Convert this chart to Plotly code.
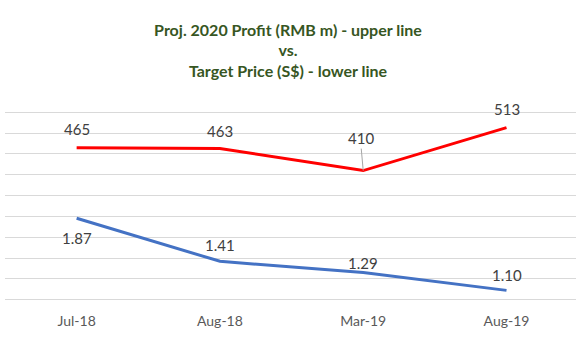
import plotly.graph_objects as go

categories = ["Jul-18", "Aug-18", "Mar-19", "Aug-19"]
profit = [465, 463, 410, 513]
target_price = [1.87, 1.41, 1.29, 1.10]
profit_labels = ["465", "463", "410", "513"]
price_labels = ["1.87", "1.41", "1.29", "1.10"]

x_idx = list(range(len(categories)))

fig = go.Figure()
fig.add_trace(go.Scatter(x=x_idx, y=profit, mode="lines",
                         line=dict(color="#FF0000", width=3), yaxis="y"))
fig.add_trace(go.Scatter(x=x_idx, y=target_price, mode="lines",
                         line=dict(color="#4472C4", width=3), yaxis="y2"))

lab_font = dict(family="Lato, Carlito, Calibri, sans-serif", size=15, color="#404040")
profit_shift = [19, 18, None, 19]
for i, (v, t) in enumerate(zip(profit, profit_labels)):
    if profit_shift[i] is None:
        fig.add_annotation(x=i, y=v, xref="x", yref="y", text=t, showarrow=True,
                           ax=-2, ay=-22, arrowhead=0, arrowwidth=1,
                           arrowcolor="#A6A6A6", standoff=0, startstandoff=0,
                           yanchor="bottom", font=lab_font)
    else:
        fig.add_annotation(x=i, y=v, xref="x", yref="y", text=t, showarrow=False,
                           yshift=profit_shift[i], font=lab_font)

price_shift = [-20, 16, 10, 15]
for i, (v, t) in enumerate(zip(target_price, price_labels)):
    fig.add_annotation(x=i, y=v, xref="x", yref="y2", text=t, showarrow=False,
                       yshift=price_shift[i], font=lab_font)

fig.update_layout(
    width=576, height=349,
    margin=dict(l=5, r=0, t=111, b=48),
    paper_bgcolor="white", plot_bgcolor="white",
    showlegend=False,
    title=dict(
        text="Proj. 2020 Profit (RMB m) - upper line<br>vs.<br>Target Price (S$) - lower line",
        font=dict(family="Lato, Carlito, Calibri, sans-serif", size=16, color="#375623", weight="bold"),
        x=0.5, xanchor="center", y=0.898, yanchor="top",
    ),
    xaxis=dict(
        tickmode="array", tickvals=x_idx, ticktext=categories,
        range=[-0.5, 3.485], showgrid=False, zeroline=False, showline=False,
        ticks="", tickfont=dict(family="Lato, Carlito, Calibri, sans-serif", size=14, color="#595959"),
        ticklabelstandoff=10,
    ),
    yaxis=dict(
        range=[97, 553], dtick=50, tick0=100, showgrid=True, gridcolor="#D9D9D9",
        gridwidth=1, zeroline=False, showticklabels=False, showline=False, ticks="",
    ),
    yaxis2=dict(
        range=[0.9866, 3.0134], overlaying="y", side="right", showgrid=False,
        zeroline=False, showticklabels=False, showline=False, ticks="",
    ),
)

fig.write_html("out.html")
